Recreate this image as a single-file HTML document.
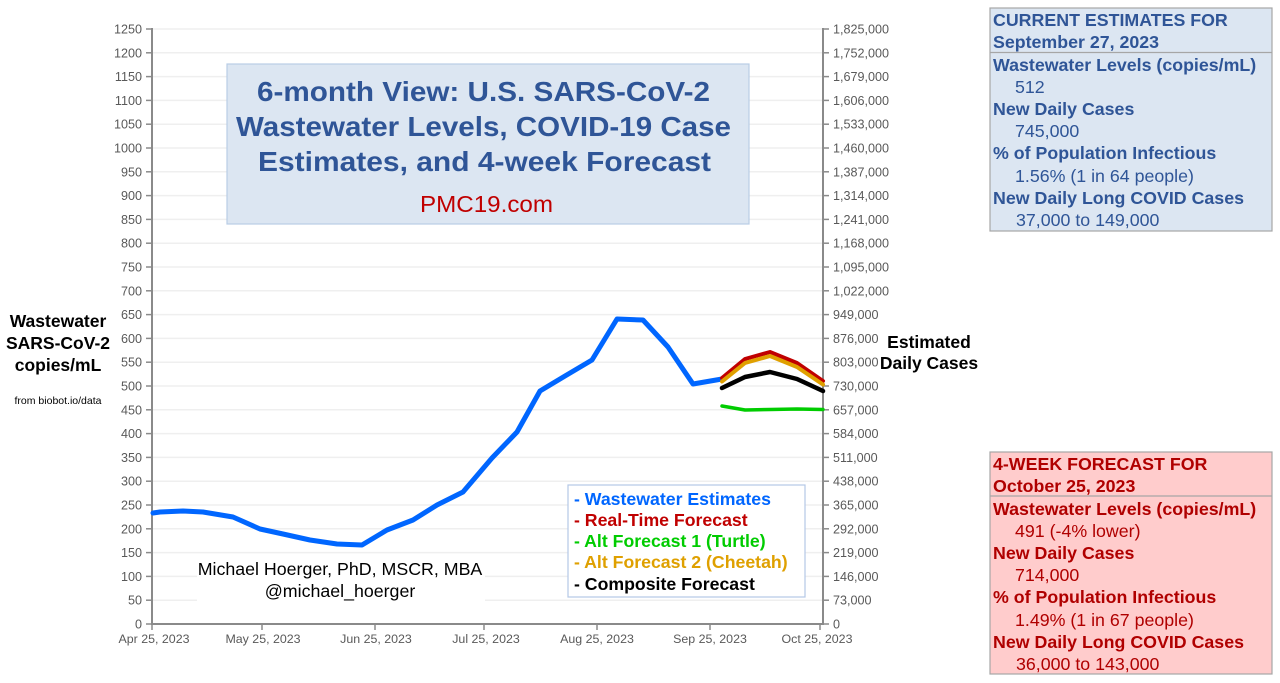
<!DOCTYPE html>
<html><head><meta charset="utf-8"><style>
html,body{margin:0;padding:0;background:#fff;}
svg{display:block;font-family:"Liberation Sans",Arial,sans-serif;}
</style></head><body>
<svg width="1280" height="683" viewBox="0 0 1280 683" xmlns="http://www.w3.org/2000/svg">
<rect width="1280" height="683" fill="#fff"/>
<g stroke="#efefef" stroke-width="1.5">
<line x1="153" x2="823" y1="29" y2="29"/><line x1="153" x2="823" y1="52.8" y2="52.8"/><line x1="153" x2="823" y1="76.6" y2="76.6"/><line x1="153" x2="823" y1="100.4" y2="100.4"/><line x1="153" x2="823" y1="124.2" y2="124.2"/><line x1="153" x2="823" y1="148" y2="148"/><line x1="153" x2="823" y1="171.8" y2="171.8"/><line x1="153" x2="823" y1="195.6" y2="195.6"/><line x1="153" x2="823" y1="219.4" y2="219.4"/><line x1="153" x2="823" y1="243.2" y2="243.2"/><line x1="153" x2="823" y1="267" y2="267"/><line x1="153" x2="823" y1="290.8" y2="290.8"/><line x1="153" x2="823" y1="314.6" y2="314.6"/><line x1="153" x2="823" y1="338.4" y2="338.4"/><line x1="153" x2="823" y1="362.2" y2="362.2"/><line x1="153" x2="823" y1="386" y2="386"/><line x1="153" x2="823" y1="409.8" y2="409.8"/><line x1="153" x2="823" y1="433.6" y2="433.6"/><line x1="153" x2="823" y1="457.4" y2="457.4"/><line x1="153" x2="823" y1="481.2" y2="481.2"/><line x1="153" x2="823" y1="505" y2="505"/><line x1="153" x2="823" y1="528.8" y2="528.8"/><line x1="153" x2="823" y1="552.6" y2="552.6"/><line x1="153" x2="823" y1="576.4" y2="576.4"/><line x1="153" x2="823" y1="600.2" y2="600.2"/>
</g>
<!-- axes -->
<g stroke="#8a8a8a" stroke-width="2" fill="none">
<line x1="152" y1="28" x2="152" y2="625"/>
<line x1="823" y1="28" x2="823" y2="625"/>
<line x1="151" y1="624" x2="824" y2="624"/>
</g>
<g stroke="#8a8a8a" stroke-width="1.5">
<line x1="146" x2="152" y1="29" y2="29"/><line x1="146" x2="152" y1="52.8" y2="52.8"/><line x1="146" x2="152" y1="76.6" y2="76.6"/><line x1="146" x2="152" y1="100.4" y2="100.4"/><line x1="146" x2="152" y1="124.2" y2="124.2"/><line x1="146" x2="152" y1="148" y2="148"/><line x1="146" x2="152" y1="171.8" y2="171.8"/><line x1="146" x2="152" y1="195.6" y2="195.6"/><line x1="146" x2="152" y1="219.4" y2="219.4"/><line x1="146" x2="152" y1="243.2" y2="243.2"/><line x1="146" x2="152" y1="267" y2="267"/><line x1="146" x2="152" y1="290.8" y2="290.8"/><line x1="146" x2="152" y1="314.6" y2="314.6"/><line x1="146" x2="152" y1="338.4" y2="338.4"/><line x1="146" x2="152" y1="362.2" y2="362.2"/><line x1="146" x2="152" y1="386" y2="386"/><line x1="146" x2="152" y1="409.8" y2="409.8"/><line x1="146" x2="152" y1="433.6" y2="433.6"/><line x1="146" x2="152" y1="457.4" y2="457.4"/><line x1="146" x2="152" y1="481.2" y2="481.2"/><line x1="146" x2="152" y1="505" y2="505"/><line x1="146" x2="152" y1="528.8" y2="528.8"/><line x1="146" x2="152" y1="552.6" y2="552.6"/><line x1="146" x2="152" y1="576.4" y2="576.4"/><line x1="146" x2="152" y1="600.2" y2="600.2"/><line x1="146" x2="152" y1="624" y2="624"/>
<line x1="823" x2="829" y1="29" y2="29"/><line x1="823" x2="829" y1="52.8" y2="52.8"/><line x1="823" x2="829" y1="76.6" y2="76.6"/><line x1="823" x2="829" y1="100.4" y2="100.4"/><line x1="823" x2="829" y1="124.2" y2="124.2"/><line x1="823" x2="829" y1="148" y2="148"/><line x1="823" x2="829" y1="171.8" y2="171.8"/><line x1="823" x2="829" y1="195.6" y2="195.6"/><line x1="823" x2="829" y1="219.4" y2="219.4"/><line x1="823" x2="829" y1="243.2" y2="243.2"/><line x1="823" x2="829" y1="267" y2="267"/><line x1="823" x2="829" y1="290.8" y2="290.8"/><line x1="823" x2="829" y1="314.6" y2="314.6"/><line x1="823" x2="829" y1="338.4" y2="338.4"/><line x1="823" x2="829" y1="362.2" y2="362.2"/><line x1="823" x2="829" y1="386" y2="386"/><line x1="823" x2="829" y1="409.8" y2="409.8"/><line x1="823" x2="829" y1="433.6" y2="433.6"/><line x1="823" x2="829" y1="457.4" y2="457.4"/><line x1="823" x2="829" y1="481.2" y2="481.2"/><line x1="823" x2="829" y1="505" y2="505"/><line x1="823" x2="829" y1="528.8" y2="528.8"/><line x1="823" x2="829" y1="552.6" y2="552.6"/><line x1="823" x2="829" y1="576.4" y2="576.4"/><line x1="823" x2="829" y1="600.2" y2="600.2"/><line x1="823" x2="829" y1="624" y2="624"/>
<line x1="152" x2="152" y1="624" y2="630"/><line x1="262" x2="262" y1="624" y2="630"/><line x1="375" x2="375" y1="624" y2="630"/><line x1="484" x2="484" y1="624" y2="630"/><line x1="597" x2="597" y1="624" y2="630"/><line x1="710" x2="710" y1="624" y2="630"/><line x1="820" x2="820" y1="624" y2="630"/>
</g>
<!-- left tick labels -->
<g font-size="12.6" fill="#595959" text-anchor="end">
<text x="142" y="33.5">1250</text><text x="142" y="57.3">1200</text><text x="142" y="81.1">1150</text><text x="142" y="104.9">1100</text><text x="142" y="128.7">1050</text><text x="142" y="152.5">1000</text><text x="142" y="176.3">950</text><text x="142" y="200.1">900</text><text x="142" y="223.9">850</text><text x="142" y="247.7">800</text><text x="142" y="271.5">750</text><text x="142" y="295.3">700</text><text x="142" y="319.1">650</text><text x="142" y="342.9">600</text><text x="142" y="366.7">550</text><text x="142" y="390.5">500</text><text x="142" y="414.3">450</text><text x="142" y="438.1">400</text><text x="142" y="461.9">350</text><text x="142" y="485.7">300</text><text x="142" y="509.5">250</text><text x="142" y="533.3">200</text><text x="142" y="557.1">150</text><text x="142" y="580.9">100</text><text x="142" y="604.7">50</text><text x="142" y="628.5">0</text>
</g>
<!-- right tick labels -->
<g font-size="12.6" fill="#595959">
<text x="833" y="33.5">1,825,000</text><text x="833" y="57.3">1,752,000</text><text x="833" y="81.1">1,679,000</text><text x="833" y="104.9">1,606,000</text><text x="833" y="128.7">1,533,000</text><text x="833" y="152.5">1,460,000</text><text x="833" y="176.3">1,387,000</text><text x="833" y="200.1">1,314,000</text><text x="833" y="223.9">1,241,000</text><text x="833" y="247.7">1,168,000</text><text x="833" y="271.5">1,095,000</text><text x="833" y="295.3">1,022,000</text><text x="833" y="319.1">949,000</text><text x="833" y="342.9">876,000</text><text x="833" y="366.7">803,000</text><text x="833" y="390.5">730,000</text><text x="833" y="414.3">657,000</text><text x="833" y="438.1">584,000</text><text x="833" y="461.9">511,000</text><text x="833" y="485.7">438,000</text><text x="833" y="509.5">365,000</text><text x="833" y="533.3">292,000</text><text x="833" y="557.1">219,000</text><text x="833" y="580.9">146,000</text><text x="833" y="604.7">73,000</text><text x="833" y="628.5">0</text>
</g>
<!-- x labels -->
<g font-size="12.4" fill="#595959" text-anchor="middle">
<text x="154" y="643">Apr 25, 2023</text><text x="263" y="643">May 25, 2023</text><text x="376" y="643">Jun 25, 2023</text><text x="486" y="643">Jul 25, 2023</text><text x="597" y="643">Aug 25, 2023</text><text x="710" y="643">Sep 25, 2023</text><text x="817" y="643">Oct 25, 2023</text>
</g>
<!-- author box -->
<rect x="197" y="556" width="288" height="50" fill="#fff"/>
<g font-size="17.8" fill="#000" text-anchor="middle">
<text x="340" y="575">Michael Hoerger, PhD, MSCR, MBA</text>
<text x="340" y="597">@michael_hoerger</text>
</g>
<!-- series -->
<g fill="none" stroke-linejoin="round" stroke-linecap="round">
<polyline stroke="#0066ff" stroke-width="5" points="153,513 160,512 183,511 203,512 233,517 260,529 283,534 310,540 337,544 362,545 387,530 413,520 437,505 463,492 492,458 517,432 540,391 565,376 592,360 617,319 643,320 668,347 693,384 722,379"/>
<polyline stroke="#00cc00" stroke-width="3.5" points="722,406 745,410 770,409.5 797,409 823,409.5"/>
<polyline stroke="#c00000" stroke-width="4" points="722,378 745,359 770,352 797,363 823,381"/>
<polyline stroke="#e0a000" stroke-width="4" points="722,381.5 745,363 770,356 797,367 823,384.5"/>
<polyline stroke="#000" stroke-width="4.5" points="722,388 745,377 770,372 797,379 823,391"/>
</g>
<!-- legend -->
<rect x="568" y="485" width="237" height="112" fill="#fff" stroke="#b4c7e7" stroke-width="1.2"/>
<g font-size="17.7" font-weight="bold">
<text x="574" y="505" fill="#0066ff">- Wastewater Estimates</text>
<text x="574" y="526" fill="#c00000">- Real-Time Forecast</text>
<text x="574" y="547" fill="#00cc00">- Alt Forecast 1 (Turtle)</text>
<text x="574" y="568" fill="#dfa000">- Alt Forecast 2 (Cheetah)</text>
<text x="574" y="590" fill="#000">- Composite Forecast</text>
</g>
<!-- title box -->
<rect x="227" y="64" width="522" height="160" fill="#dce6f2" stroke="#b9cde5" stroke-width="1.2"/>
<g font-size="28" font-weight="bold" fill="#2f5597">
<text x="257" y="101" textLength="453" lengthAdjust="spacingAndGlyphs">6-month View: U.S. SARS-CoV-2</text>
<text x="236" y="136" textLength="495" lengthAdjust="spacingAndGlyphs">Wastewater Levels, COVID-19 Case</text>
<text x="258" y="171" textLength="453" lengthAdjust="spacingAndGlyphs">Estimates, and 4-week Forecast</text>
</g>
<text x="420" y="212" font-size="23.5" fill="#c00000" textLength="133" lengthAdjust="spacingAndGlyphs">PMC19.com</text>
<!-- left axis title -->
<g font-size="17.5" font-weight="bold" fill="#000" text-anchor="middle">
<text x="58" y="327">Wastewater</text>
<text x="58" y="349">SARS-CoV-2</text>
<text x="58" y="371">copies/mL</text>
</g>
<text x="58" y="404" font-size="10.5" fill="#000" text-anchor="middle">from biobot.io/data</text>
<!-- right axis title -->
<g font-size="17.5" font-weight="bold" fill="#000" text-anchor="middle">
<text x="929" y="348">Estimated</text>
<text x="929" y="369">Daily Cases</text>
</g>
<!-- current estimates box -->
<rect x="990" y="8" width="282" height="223" fill="#dce6f2" stroke="#a6a6a6" stroke-width="1.2"/>
<line x1="990" x2="1272" y1="52.5" y2="52.5" stroke="#a6a6a6" stroke-width="1.2"/>
<g font-size="17.8" fill="#2f5597">
<text x="993" y="26" font-weight="bold">CURRENT ESTIMATES FOR</text>
<text x="993" y="48" font-weight="bold">September 27, 2023</text>
<text x="993" y="71" font-weight="bold">Wastewater Levels (copies/mL)</text>
<text x="1015" y="93">512</text>
<text x="993" y="115" font-weight="bold">New Daily Cases</text>
<text x="1015" y="137">745,000</text>
<text x="993" y="159" font-weight="bold">% of Population Infectious</text>
<text x="1015" y="182">1.56% (1 in 64 people)</text>
<text x="993" y="204" font-weight="bold">New Daily Long COVID Cases</text>
<text x="1016" y="226">37,000 to 149,000</text>
</g>
<!-- forecast box -->
<rect x="990" y="452" width="282" height="222" fill="#ffcccc" stroke="#a6a6a6" stroke-width="1.2"/>
<line x1="990" x2="1272" y1="496" y2="496" stroke="#a6a6a6" stroke-width="1.2"/>
<g font-size="17.8" fill="#b00000">
<text x="993" y="470" font-weight="bold">4-WEEK FORECAST FOR</text>
<text x="993" y="492" font-weight="bold">October 25, 2023</text>
<text x="993" y="515" font-weight="bold">Wastewater Levels (copies/mL)</text>
<text x="1015" y="537">491 (-4% lower)</text>
<text x="993" y="559" font-weight="bold">New Daily Cases</text>
<text x="1015" y="581">714,000</text>
<text x="993" y="603" font-weight="bold">% of Population Infectious</text>
<text x="1015" y="626">1.49% (1 in 67 people)</text>
<text x="993" y="648" font-weight="bold">New Daily Long COVID Cases</text>
<text x="1016" y="670">36,000 to 143,000</text>
</g>
</svg>
</body></html>
